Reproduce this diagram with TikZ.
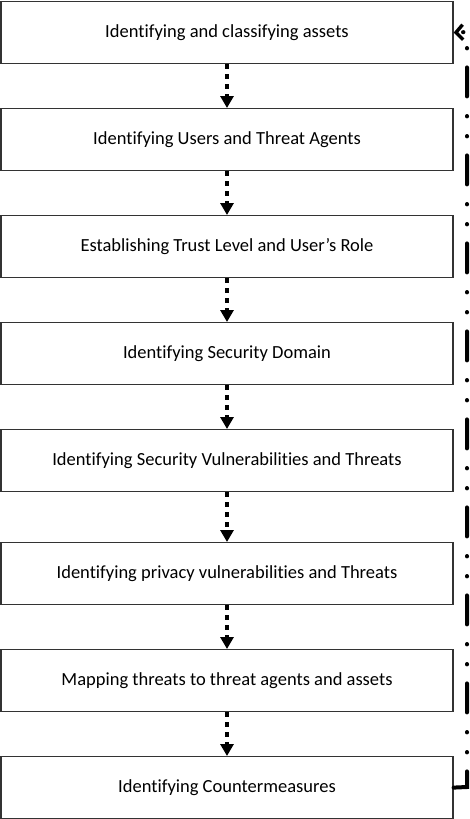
\documentclass[tikz,border=0pt]{standalone}
\usepackage{fontspec}
\setmainfont{Carlito}[Ligatures=NoCommon]
\usetikzlibrary{arrows.meta}
\begin{document}
\begin{tikzpicture}[x=1pt,y=-1pt,
  stepbox/.style={draw=black!80,line width=1.2pt,minimum width=452pt,minimum height=62pt,inner sep=0pt,font=\fontsize{18.5}{22}\selectfont,anchor=north},
  flowarrow/.style={line width=3.5pt,dash pattern=on 5pt off 5pt,-{Triangle[length=12pt,width=13pt]}},
  feedback/.style={line width=4pt,line cap=round,dash pattern=on 29pt off 19pt on 0.4pt off 19.6pt on 0.4pt off 19.6pt,-{Straight Barb[length=7pt,width=15pt,line width=3.4pt]}}
]
\useasboundingbox (0,0) rectangle (470,819);
\node[stepbox] (b1) at (227,1) {Identifying and classifying assets};
\node[stepbox] (b2) at (227,108) {Identifying Users and Threat Agents};
\node[stepbox] (b3) at (227,215) {Establishing Trust Level and User’s Role};
\node[stepbox] (b4) at (227,322) {Identifying Security Domain};
\node[stepbox] (b5) at (227,429) {Identifying Security Vulnerabilities and Threats};
\node[stepbox] (b6) at (227,542) {Identifying privacy vulnerabilities and Threats};
\node[stepbox] (b7) at (227,649) {Mapping threats to threat agents and assets};
\node[stepbox] (b8) at (227,756) {Identifying Countermeasures};
\foreach \a/\b in {b1/b2,b2/b3,b3/b4,b4/b5,b5/b6,b6/b7,b7/b8}
  \draw[flowarrow] (\a.south) -- (\b.north);
\coordinate (c1) at (467,787);
\coordinate (c2) at (467,32);
\draw[feedback] (b8.east) -- (c1) -- (c2) -- (b1.east);
\end{tikzpicture}
\end{document}
